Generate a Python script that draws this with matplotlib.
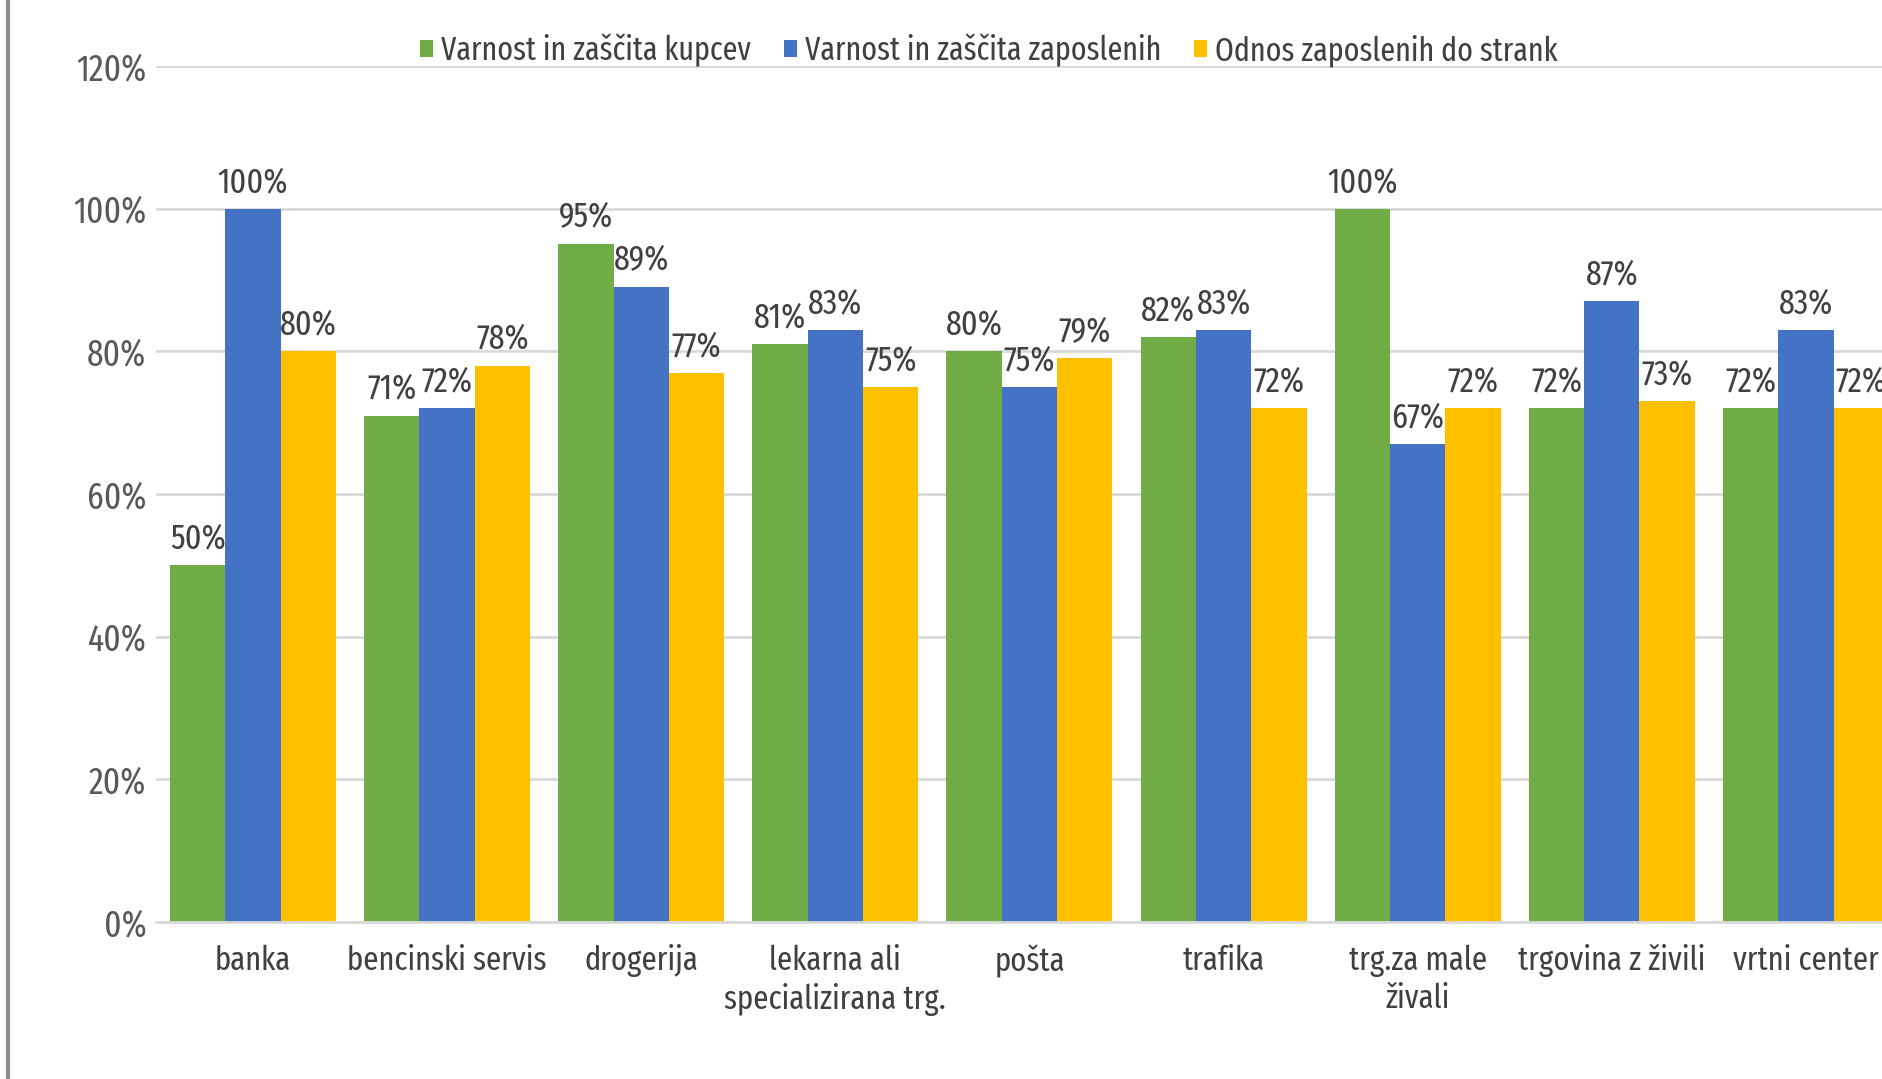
import numpy as np
import matplotlib
matplotlib.use('Agg')
from matplotlib import pyplot as plt
from matplotlib.lines import Line2D

plt.rcParams['font.family'] = ['Fira Sans Extra Condensed', 'DejaVu Sans']

categories = ['banka', 'bencinski servis', 'drogerija', 'lekarna ali\nspecializirana trg.',
              'pošta', 'trafika', 'trg.za male\nživali', 'trgovina z živili', 'vrtni center']
kupci = [50, 71, 95, 81, 80, 82, 100, 72, 72]
zaposleni = [100, 72, 89, 83, 75, 83, 67, 87, 83]
odnos = [80, 78, 77, 75, 79, 72, 72, 73, 72]
series_names = ['Varnost in zaščita kupcev', 'Varnost in zaščita zaposlenih', 'Odnos zaposlenih do strank']
colors = ['#70AD47', '#4472C4', '#FFC000']
yticks = [0, 20, 40, 60, 80, 100, 120]

fig = plt.figure(figsize=(18.83, 10.79), dpi=100)
ax = fig.add_axes([156/1883, 0.1455, 9*194.1/1883, 0.7933])

x = np.arange(len(categories))
w = 0.285
for i, (vals, name, c) in enumerate(zip([kupci, zaposleni, odnos], series_names, colors)):
    bars = ax.bar(x + (i-1)*w, vals, w, color=c, label=name)
    for b, v in zip(bars, vals):
        ax.annotate('%d%%' % v, (b.get_x()+b.get_width()/2, v), xytext=(0, 7),
                    textcoords='offset points', ha='center', va='bottom',
                    fontsize=25, color='#404040')

ax.set_xlim(-0.5, len(categories)-0.5)
ax.set_ylim(0, 120)
ax.set_yticks(yticks)
ax.set_yticklabels(['%d%%' % t for t in yticks], fontsize=26, color='#595959')
ax.set_xticks(x)
ax.set_xticklabels(categories, fontsize=24, color='#404040', linespacing=1.25)
ax.tick_params(axis='both', length=0)
ax.tick_params(axis='x', pad=16)
ax.tick_params(axis='y', pad=7)
ax.yaxis.grid(True, color='#D9D9D9', linewidth=2)
ax.set_axisbelow(True)
for s in ['top', 'right', 'left']:
    ax.spines[s].set_visible(False)
ax.spines['bottom'].set_color('#D9D9D9')
ax.spines['bottom'].set_linewidth(2)

fig.legend(loc='center', bbox_to_anchor=(989/1883, 1-50/1079), ncol=3, frameon=False,
           fontsize=23.5, handlelength=0.4, handleheight=0.4, handletextpad=0.25,
           columnspacing=1.0, labelcolor='#404040')

fig.add_artist(Line2D([8/1883, 8/1883], [0, 1], color='#8C8C8C', linewidth=3))

fig.savefig('out.png', dpi=100)
